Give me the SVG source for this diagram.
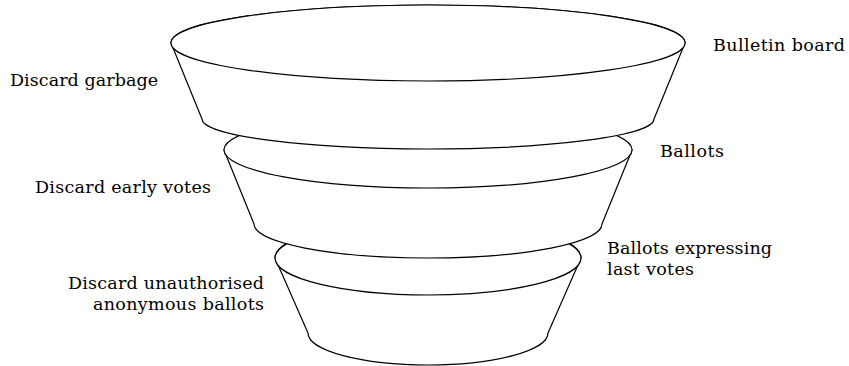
<svg xmlns="http://www.w3.org/2000/svg" width="849" height="366" viewBox="0 0 849 366">
<style>
.s{fill:#fff;stroke:#000;stroke-width:1.2;stroke-linejoin:round}
.t{font-size:17.5px;fill:#000}
</style>
<rect width="849" height="366" fill="#fff"/>
<g id="level3">
<path class="s" d="M275,258 L308,333 A120,32 0 0 0 548,333 L581,258 A153,37 0 0 0 275,258 Z"/>
<ellipse class="s" cx="428" cy="258" rx="153" ry="37"/>
</g>
<g id="level2">
<path class="s" d="M224,150 L254,224 A174,34 0 0 0 602,224 L632,150 A204,38 0 0 0 224,150 Z"/>
<ellipse class="s" cx="428" cy="150" rx="204" ry="38"/>
</g>
<g id="level1">
<path class="s" d="M171,43 L202,119 A226,30 0 0 0 654,119 L685,43 A257,38 0 0 0 171,43 Z"/>
<ellipse class="s" cx="428" cy="43" rx="257" ry="38"/>
</g>
<g id="labels" font-family="'DejaVu Serif', serif">
<text class="t" x="10" y="86" textLength="148" lengthAdjust="spacing">Discard garbage</text>
<text class="t" x="35" y="193" textLength="176" lengthAdjust="spacing">Discard early votes</text>
<text class="t" x="68" y="289" textLength="196" lengthAdjust="spacing">Discard unauthorised</text>
<text class="t" x="93" y="310" textLength="171" lengthAdjust="spacing">anonymous ballots</text>
<text class="t" x="713" y="51" textLength="132" lengthAdjust="spacing">Bulletin board</text>
<text class="t" x="660" y="157" textLength="64" lengthAdjust="spacing">Ballots</text>
<text class="t" x="607" y="254" textLength="165" lengthAdjust="spacing">Ballots expressing</text>
<text class="t" x="607" y="275" textLength="87" lengthAdjust="spacing">last votes</text>
</g>
</svg>
